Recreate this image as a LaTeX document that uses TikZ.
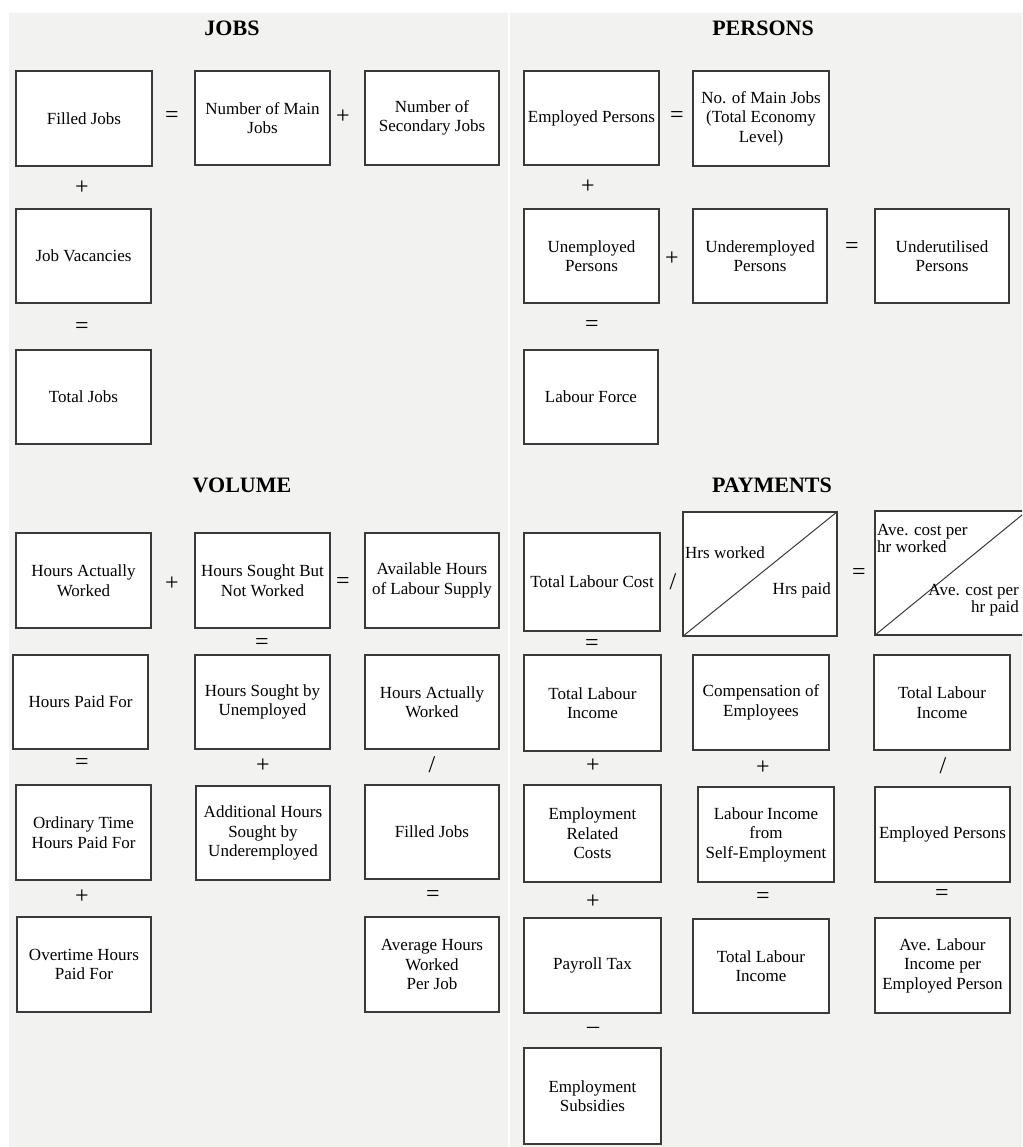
\documentclass[tikz,border=0pt]{standalone}
\usepackage{fontspec}
\setmainfont{Liberation Serif}
\definecolor{bg}{HTML}{F2F2F0}
\definecolor{edge}{HTML}{3A3A3A}
\tikzset{
  box/.style={draw=edge, line width=1.3pt, fill=white, inner sep=1pt, align=center,
    font=\fontsize{17}{19.5}\selectfont},
  op/.style={font=\fontsize{24}{24}\selectfont, inner sep=0pt},
  ttl/.style={font=\fontsize{22}{22}\selectfont\bfseries, inner sep=0pt},
  lbl/.style={font=\fontsize{17}{17.5}\selectfont, inner sep=0pt},
}
\newcommand\mybox[6]{\node[box, minimum width={#4pt-#2pt}, minimum height={#5pt-#3pt}] (#1) at ({(#2+#4)/2},{(#3+#5)/2}) {#6};}
\begin{document}
\begin{tikzpicture}[x=1pt,y=-1pt]
\clip (0,0) rectangle (1022,1147);
\fill[white] (0,0) rectangle (1022,1147);
\fill[bg] (9,13) rectangle (508,1147);
\fill[bg] (510,13) rectangle (1022,1147);

% ---------------- JOBS ----------------
\node[ttl] (tjobs) at (232,28) {JOBS};
\mybox{fj}{16}{71}{152}{166}{Filled Jobs}
\mybox{nmj}{195}{71}{330}{165}{Number of Main\\Jobs}
\mybox{nsj}{365}{71}{499}{165}{Number of\\Secondary Jobs}
\mybox{jv}{16}{209}{151}{303}{Job Vacancies}
\mybox{tj}{16}{350}{151}{444}{Total Jobs}
\node[op] (jo1) at (172,117) {=};
\node[op] (jo2) at (343,117) {+};
\node[op] (jo3) at (82,188) {+};
\node[op] (jo4) at (82,328) {=};

% ---------------- PERSONS ----------------
\node[ttl] (tpers) at (763,28) {PERSONS};
\mybox{ep}{524}{71}{659}{165}{Employed Persons}
\mybox{nmjt}{693}{71}{829}{166}{No. of Main Jobs\\(Total Economy\\Level)}
\mybox{up}{524}{209}{659}{303}{Unemployed\\Persons}
\mybox{uep}{693}{209}{827}{303}{Underemployed\\Persons}
\mybox{utp}{875}{209}{1009}{303}{Underutilised\\Persons}
\mybox{lf}{524}{350}{658}{444}{Labour Force}
\node[op] (po1) at (677,117) {=};
\node[op] (po2) at (588,187) {+};
\node[op] (po3) at (672,259) {+};
\node[op] (po4) at (852,248) {=};
\node[op] (po5) at (592,326) {=};

% ---------------- VOLUME ----------------
\node[ttl] (tvol) at (242,485) {VOLUME};
\mybox{haw}{16}{533}{151}{628}{Hours Actually\\Worked}
\mybox{hsb}{195}{533}{330}{628}{Hours Sought But\\Not Worked}
\mybox{ahl}{365}{533}{499}{628}{Available Hours\\of Labour Supply}
\mybox{hpf}{13}{655}{148}{749}{Hours Paid For}
\mybox{hsu}{195}{655}{330}{749}{Hours Sought by\\Unemployed}
\mybox{haw2}{365}{655}{499}{749}{Hours Actually\\Worked}
\mybox{oth}{16}{785}{151}{880}{Ordinary Time\\Hours Paid For}
\mybox{ahs}{196}{786}{330}{880}{Additional Hours\\Sought by\\Underemployed}
\mybox{fj2}{365}{785}{499}{879}{Filled Jobs}
\mybox{ohp}{17}{917}{151}{1012}{Overtime Hours\\Paid For}
\mybox{ahw}{365}{917}{499}{1012}{Average Hours\\Worked\\Per Job}
\node[op] (vo1) at (172,584) {+};
\node[op] (vo2) at (343,583) {=};
\node[op] (vo3) at (262,644) {=};
\node[op] (vo4) at (82,764) {=};
\node[op] (vo5) at (263,766) {+};
\node[op] (vo6) at (432,765) {/};
\node[op] (vo7) at (82,897) {+};
\node[op] (vo8) at (433,896) {=};

% ---------------- PAYMENTS ----------------
\node[ttl] (tpay) at (772,485) {PAYMENTS};
\mybox{tlc}{524}{533}{660}{631}{Total Labour Cost}
\mybox{hrs}{683}{512}{837}{636}{}
\draw[edge, line width=1pt] (hrs.south west) -- (hrs.north east);
\node[lbl, anchor=west] (hw) at (685,553) {Hrs worked};
\node[lbl, anchor=east] (hp) at (831,590) {Hrs paid};
\mybox{ave}{875}{511}{1027}{635}{}
\draw[edge, line width=1pt] (ave.south west) -- (ave.north east);
\node[lbl, anchor=north west, align=left] (acw) at (877,524) {Ave. cost per\\hr worked};
\node[lbl, anchor=north east, align=right] (acp) at (1019,584) {Ave. cost per\\hr paid};
\mybox{tli}{524}{655}{661}{751}{Total Labour\\Income}
\mybox{coe}{693}{655}{829}{750}{Compensation of\\Employees}
\mybox{tli3}{874}{655}{1010}{750}{Total Labour\\Income}
\mybox{erc}{524}{785}{661}{882}{Employment\\Related\\Costs}
\mybox{lise}{698}{787}{834}{882}{Labour Income\\from\\Self-Employment}
\mybox{ep2}{875}{787}{1010}{882}{Employed Persons}
\mybox{pt}{524}{918}{661}{1013}{Payroll Tax}
\mybox{tli4}{693}{919}{829}{1013}{Total Labour\\Income}
\mybox{ali}{875}{918}{1010}{1013}{Ave. Labour\\Income per\\Employed Person}
\mybox{es}{524}{1048}{661}{1144}{Employment\\Subsidies}
\node[op] (yo1) at (673,582) {/};
\node[op] (yo2) at (859,574) {=};
\node[op] (yo3) at (592,645) {=};
\node[op] (yo4) at (593,766) {+};
\node[op] (yo5) at (763,768) {+};
\node[op] (yo6) at (943,766) {/};
\node[op] (yo7) at (593,902) {+};
\node[op] (yo8) at (763,898) {=};
\node[op] (yo9) at (942,895) {=};
\node[op] (yo10) at (593,1030) {--};
\end{tikzpicture}
\end{document}
